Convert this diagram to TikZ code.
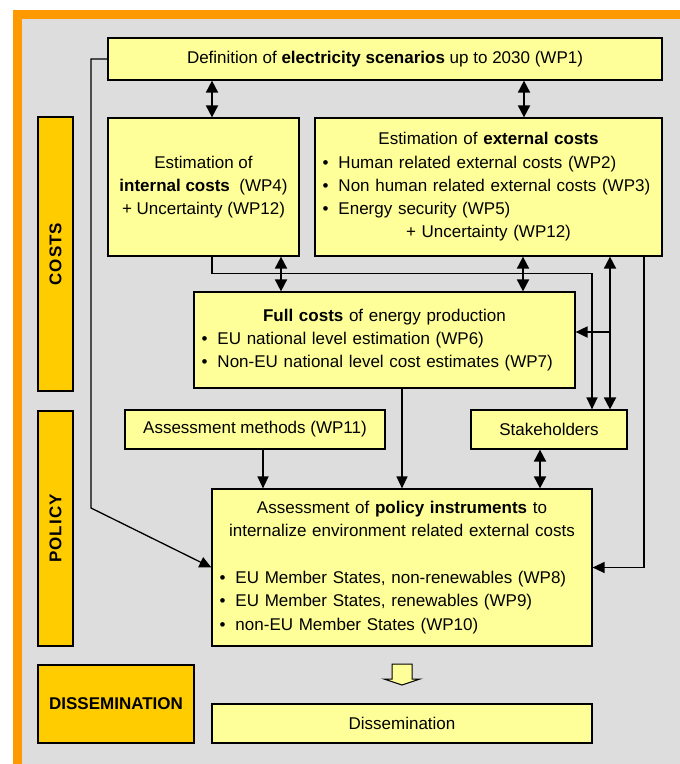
\documentclass[tikz,border=0pt]{standalone}
\usepackage{fontspec}
\setmainfont{Liberation Sans}
\usetikzlibrary{arrows.meta}

\definecolor{frameorange}{HTML}{FF9900}
\definecolor{panelgray}{HTML}{DDDDDD}
\definecolor{wpyellow}{HTML}{FFFF99}
\definecolor{tabgold}{HTML}{FFCC00}

\newcommand{\ctrline}[1]{\makebox[\linewidth][c]{#1}}
\newcommand{\bulline}[1]{\makebox[\linewidth][l]{\makebox[16pt][l]{\textbullet}#1}}

\tikzset{
	wp/.style={draw,fill=wpyellow,line width=1.2pt,inner xsep=7.5pt,inner ysep=0pt,font=\fontsize{17}{23.3}\selectfont},
	tab/.style={draw,fill=tabgold,line width=1.2pt,inner sep=0pt,font=\fontsize{17}{20}\selectfont\bfseries},
	dbl/.style={{Triangle[length=12pt,width=12pt]}-{Triangle[length=12pt,width=12pt]},line width=1.8pt},
	one/.style={-{Triangle[length=12pt,width=11pt]},line width=1.3pt},
}

\begin{document}
\begin{tikzpicture}[x=1pt,y=-1pt]
			\useasboundingbox (0,0) rectangle (680,764);
			\fill[frameorange] (13,10) rectangle (680,764);
			\fill[panelgray] (22,19) rectangle (680,764);
			\node[tab,rotate=90,minimum width=274pt,minimum height=35pt] (costs) at (55.5,254) {\addfontfeature{LetterSpace=6}COSTS};
			\node[tab,rotate=90,minimum width=235pt,minimum height=35pt] (policy) at (55.5,528.5) {\addfontfeature{LetterSpace=6}POLICY};
			\node[tab,minimum width=156pt,minimum height=78pt] (dissem) at (116,704) {DISSEMINATION};
			\node[wp,minimum width=554pt,minimum height=42pt] (scen) at (385,59) {Definition of \textbf{electricity scenarios} up to 2030 (WP1)};
			\node[wp,align=center,minimum width=191pt,minimum height=138pt] (intc) at (203.5,187) {Estimation of\\\textbf{internal costs}\ \ (WP4)\\+ Uncertainty (WP12)};
			\node[wp,align=left,text width=332pt,minimum height=138pt] (extc) at (488.5,187) {\ctrline{Estimation of \textbf{external costs}}\\\bulline{Human related external costs (WP2)}\\\bulline{Non human related external costs (WP3)}\\\bulline{Energy security (WP5)}\\\ctrline{+ Uncertainty (WP12)}};
			\node[wp,align=left,text width=366pt,minimum height=96pt] (full) at (384.5,340) {\ctrline{\textbf{Full costs} of energy production}\\\bulline{EU national level estimation (WP6)}\\\bulline{Non-EU national level cost estimates (WP7)}};
			\node[wp,minimum width=260pt,minimum height=39pt] (meth) at (255,429.5) {Assessment methods (WP11)};
			\node[wp,minimum width=156pt,minimum height=39pt] (stak) at (549,429.5) {Stakeholders};
			\node[wp,align=left,text width=365pt,minimum height=157pt] (poli) at (402,567.5) {\ctrline{Assessment of \textbf{policy instruments} to}\\\ctrline{internalize environment related external costs}\\[23.3pt]\bulline{EU Member States, non-renewables (WP8)}\\\bulline{EU Member States, renewables (WP9)}\\\bulline{non-EU Member States (WP10)}};
			\node[wp,minimum width=380pt,minimum height=39pt] (diss) at (402,723.5) {Dissemination};
			\coordinate (tap) at (610,332);
			\coordinate (bend) at (91,508);
			\draw[dbl](scen.south -| 212,0)--(intc.north -| 212,0);
			\draw[dbl](scen.south -| 524,0)--(extc.north -| 524,0);
			\draw[one](intc.south -| 212,0)--++(0,17)-|(stak.north -| 592,0);
			\draw[dbl](intc.south -| 281,0)--(full.north -| 281,0);
			\draw[dbl](extc.south -| 523,0)--(full.north -| 523,0);
			\draw[dbl](extc.south -| 610,0)--(stak.north -| 610,0);
			\draw[one,line width=1.8pt](tap)--(tap -| full.east);
			\draw[one](extc.south -| 644,0)|-(poli.east);
			\draw[one](scen.west)-|(bend)--(poli.west);
			\draw[one](meth.south -| 263,0)--(poli.north -| 263,0);
			\draw[one](full.south -| poli.north)--(poli.north);
			\draw[dbl](stak.south -| 540,0)--(poli.north -| 540,0);
			\filldraw[fill=wpyellow,line width=1pt] (392,664)--(412,664)--(412,679)--(420,679)--(402,685)--(384,679)--(392,679)--cycle;
\end{tikzpicture}
\end{document}
